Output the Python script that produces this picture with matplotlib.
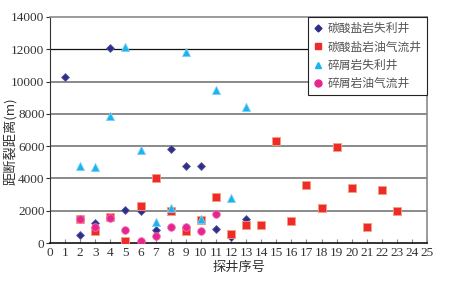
import matplotlib
matplotlib.use("Agg")
import matplotlib.pyplot as plt
from matplotlib.lines import Line2D

plt.rcParams['font.family'] = ['Liberation Serif', 'Noto Sans CJK SC']

carb_loss_x = [1, 2, 3, 4, 5, 6, 7, 8, 9, 10, 11, 12, 13]
carb_loss_y = [10250, 500, 1250, 12100, 2050, 2000, 780, 5800, 4750, 4800, 900, 380, 1500]

carb_oil_x = [2, 3, 4, 5, 6, 7, 8, 9, 10, 11, 12, 13, 14, 15, 16, 17, 18, 19, 20, 21, 22, 23]
carb_oil_y = [1500, 750, 1630, 120, 2300, 4050, 2000, 750, 1450, 2870, 550, 1100, 1100,
              6300, 1350, 3600, 2150, 5970, 3430, 970, 3280, 2000]

clas_loss_x = [2, 3, 4, 5, 6, 7, 8, 9, 10, 11, 12, 13]
clas_loss_y = [4780, 4730, 7850, 12150, 5750, 1300, 2200, 11800, 1500, 9500, 2770, 8400]

clas_oil_x = [2, 3, 4, 5, 6, 7, 8, 9, 10, 11]
clas_oil_y = [1480, 970, 1530, 800, 150, 430, 970, 970, 750, 1820]

labels = ['碳酸盐岩失利井', '碳酸盐岩油气流井', '碎屑岩失利井', '碎屑岩油气流井']
colors = ['#2e2d88', '#ee2a2a', '#1ab3ee', '#e8248f']
markers = ['D', 's', '^', 'o']

fig = plt.figure(figsize=(4.51, 2.82), dpi=100)
ax = fig.add_axes([0.111, 0.138, 0.836, 0.802])

series = [(carb_loss_x, carb_loss_y), (carb_oil_x, carb_oil_y),
          (clas_loss_x, clas_loss_y), (clas_oil_x, clas_oil_y)]
sizes = [16, 34, 34, 30]
edges = ['#5a5aa0', '#f5a07a', '#7ad0f5', '#f070b0']
for (xs, ys), c, m, s, e, lab in zip(series, colors, markers, sizes, edges, labels):
    ax.scatter(xs, ys, marker=m, s=s, color=c, edgecolors=e, linewidths=0.6, zorder=3, label=lab)

ax.set_xlim(0, 25)
ax.set_ylim(0, 14000)
ax.set_xticks(range(0, 26))
ax.set_yticks(range(0, 14001, 2000))
for yv in range(2000, 14000, 2000):
    if yv == 12000:
        ax.axhline(yv, color='#111111', lw=0.9, zorder=1)
    else:
        ax.axhline(yv, color='#8a8a8a', lw=1.4, zorder=1)

for side in ['top', 'right']:
    ax.spines[side].set_color('#8a8a8a')
    ax.spines[side].set_linewidth(1.2)
ax.spines['left'].set_color('#333333')
ax.spines['bottom'].set_color('#111111')
ax.spines['bottom'].set_linewidth(1.2)

ax.tick_params(axis='x', direction='in', length=3, color='#888888', labelsize=9.5, pad=3)
ax.tick_params(axis='y', direction='out', length=3, color='#333333', labelsize=9.5, pad=1)
for t in ax.get_xticklabels() + ax.get_yticklabels():
    t.set_color('#333333')

ax.set_xlabel('探井序号', fontsize=9.5, color='#333333', labelpad=1,
              family=['Noto Sans CJK SC', 'Liberation Serif'])
ax.set_ylabel('距断裂距离(m)', fontsize=9.5, color='#333333',
              family=['Noto Sans CJK SC', 'Liberation Serif'])
ax.yaxis.set_label_coords(-0.088, 0.45)

handles = [Line2D([], [], marker=m, color=c, linestyle='none', markersize=ms)
           for m, c, ms in zip(markers, colors, [3.5, 5, 5, 5])]
leg = ax.legend(handles, labels, loc='upper right', bbox_to_anchor=(1.0, 1.0),
                frameon=True, fancybox=False, framealpha=1, edgecolor='#222222',
                prop={'family': ['Noto Sans CJK SC', 'DejaVu Sans'], 'size': 8.5},
                handlelength=0.8, handletextpad=0.4, borderpad=0.45, labelspacing=0.45,
                borderaxespad=0)
leg.get_frame().set_linewidth(0.8)
for t in leg.get_texts():
    t.set_color('#555555')

fig.savefig('out.png', dpi=100)
